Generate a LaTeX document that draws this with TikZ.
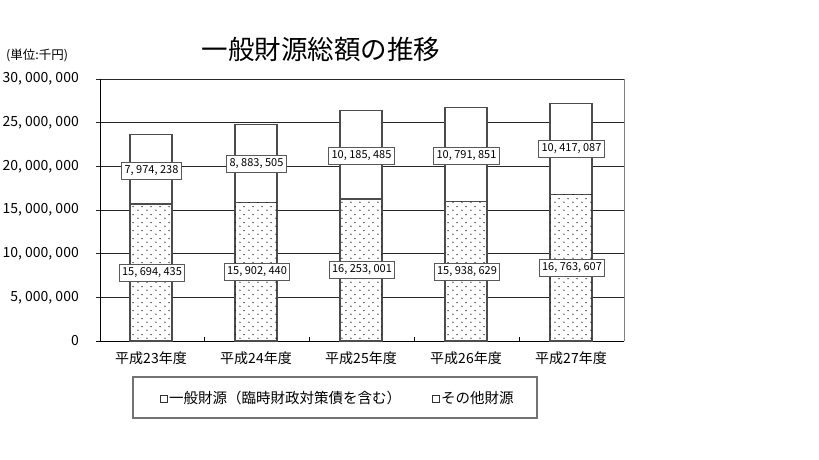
\documentclass[tikz,border=0pt]{standalone}
\usepackage{fontspec}
\setmainfont{Noto Sans CJK JP}
\usetikzlibrary{patterns}
\pgfdeclarepatternformonly{sparsedots}{\pgfqpoint{0pt}{0pt}}{\pgfqpoint{8.5pt}{8pt}}{\pgfqpoint{8.5pt}{8pt}}{%
  \pgfpathcircle{\pgfqpoint{2pt}{2pt}}{0.7pt}%
  \pgfpathcircle{\pgfqpoint{6.25pt}{6pt}}{0.7pt}%
  \pgfusepath{fill}}
\begin{document}
\begin{tikzpicture}[x=1pt,y=-1pt,
  gridline/.style={draw=black!85, line width=0.9pt},
  barlow/.style={draw=black!70, line width=1.2pt, fill=white, postaction={pattern=sparsedots}},
  barhigh/.style={draw=black!70, line width=1.2pt, fill=white},
  vlabel/.style={draw=black!65, fill=white, line width=0.9pt, font=\fontsize{11}{12}\selectfont, inner xsep=3pt, inner ysep=0pt, minimum height=17pt},
  ylab/.style={anchor=east, font=\fontsize{14}{15}\selectfont, inner sep=0pt},
  xlab/.style={font=\fontsize{14}{15}\selectfont, inner sep=0pt},
  legtext/.style={anchor=west, font=\fontsize{14.5}{15}\selectfont, inner sep=0pt},
  legkey/.style={draw=black!80, line width=0.7pt, fill=white}]
\useasboundingbox (0,0) rectangle (819,460);
\fill[white] (0,0) rectangle (819,460);
% title and unit
\node[font=\fontsize{26.5}{27}\selectfont, inner sep=0pt] (title) at (321,49) {一般財源総額の推移};
\node[font=\fontsize{12.5}{13}\selectfont, inner sep=0pt, anchor=west] (unit) at (6,55) {(単位:千円)};
% gridlines and y ticks
\foreach \k in {1,...,6} {
  \draw[gridline] (96,{341-\k*262/6}) -- (624,{341-\k*262/6});
}
% plot frame
\draw[draw=black!50, line width=0.9pt] (624,79) -- (624,341);
\draw[black, line width=1pt] (100,79) -- (100,341) -- (624,341);
\draw[black, line width=1pt] (96,341) -- (100,341);
\foreach \k in {1,...,4} {
  \draw[black, line width=0.9pt] ({100+\k*104.8},341) -- ({100+\k*104.8},337);
}
% y labels
\foreach \k/\t in {0/0, 1/{5, 000, 000}, 2/{10, 000, 000}, 3/{15, 000, 000}, 4/{20, 000, 000}, 5/{25, 000, 000}, 6/{30, 000, 000}} {
  \node[ylab] (ylab\k) at (79,{341-\k*262/6}) {\t};
}
% bars
\foreach \i/\a/\b/\ya/\yb/\ta/\tb in {
  0/15.694435/7.974238/273/170.5/{15, 694, 435}/{7, 974, 238},
  1/15.902440/8.883505/272/164/{15, 902, 440}/{8, 883, 505},
  2/16.253001/10.185485/270/155.5/{16, 253, 001}/{10, 185, 485},
  3/15.938629/10.791851/272/156/{15, 938, 629}/{10, 791, 851},
  4/16.763607/10.417087/268/149/{16, 763, 607}/{10, 417, 087}} {
  \pgfmathsetmacro{\cx}{151+105*\i}
  \pgfmathsetmacro{\ylow}{341-\a*262/30}
  \pgfmathsetmacro{\yhigh}{341-(\a+\b)*262/30}
  \draw[barhigh] ({\cx-21},\ylow) rectangle ({\cx+21},\yhigh);
  \draw[barlow] ({\cx-21},341) rectangle ({\cx+21},\ylow);
  \node[vlabel] (low\i) at ({\cx+1},\ya) {\ta};
  \node[vlabel] (high\i) at ({\cx+0.5},\yb) {\tb};
}
% x labels
\foreach \i/\t in {0/平成23年度, 1/平成24年度, 2/平成25年度, 3/平成26年度, 4/平成27年度} {
  \node[xlab] (xlab\i) at ({151+105*\i},358) {\t};
}
% legend
\draw[draw=black!55, line width=1.3pt] (133,377) rectangle (537,418);
\draw[legkey] (160,395) rectangle (167,402);
\node[legtext] (leg1) at (169,398) {一般財源（臨時財政対策債を含む）};
\draw[legkey] (432,395) rectangle (439,402);
\node[legtext] (leg2) at (441,398) {その他財源};
\end{tikzpicture}
\end{document}
